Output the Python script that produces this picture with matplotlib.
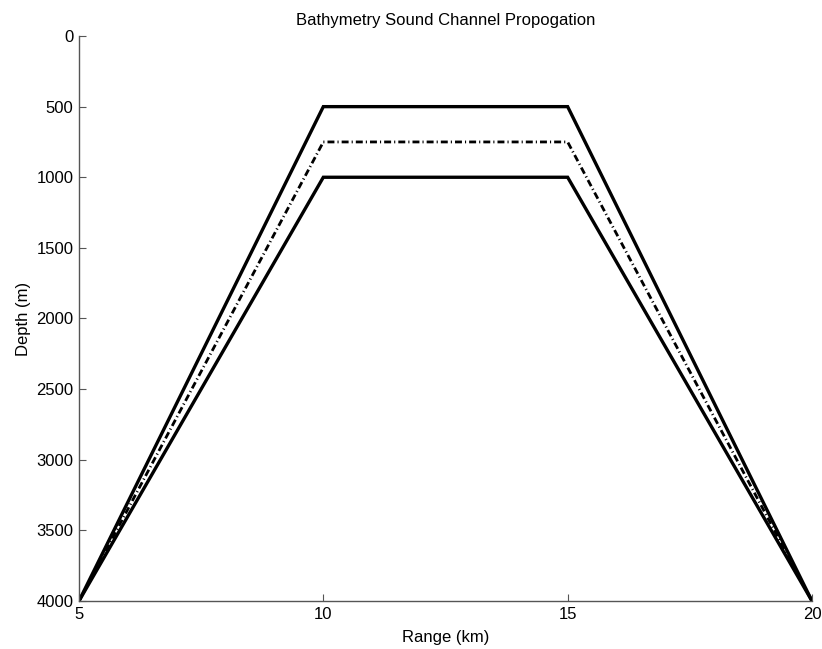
import numpy as np
import matplotlib.pyplot as plt

plt.rcParams['font.family'] = ['Liberation Sans', 'DejaVu Sans']
plt.rcParams['lines.scale_dashes'] = False

# range (km) and depth (m) of the channel boundaries
range_km = [5, 10, 15, 20]
upper_depth = [4000, 500, 500, 4000]
axis_depth = [4000, 750, 750, 4000]
lower_depth = [4000, 1000, 1000, 4000]

xticks = [5, 10, 15, 20]
yticks = [0, 500, 1000, 1500, 2000, 2500, 3000, 3500, 4000]

fig = plt.figure(figsize=(8.22, 6.49), dpi=100)
ax = fig.add_axes([0.0961, 0.074, 0.8917, 0.8705])

ax.plot(range_km, upper_depth, '-k', lw=2.4, solid_joinstyle='miter')
ax.plot(range_km, axis_depth, color='k', lw=2.0,
        dashes=(5.0, 2.2, 0.8, 2.2))
ax.plot(range_km, lower_depth, '-k', lw=2.4, solid_joinstyle='miter')

ax.set_xlim(5, 20)
ax.set_ylim(4000, 0)
ax.set_xticks(xticks)
ax.set_yticks(yticks)
ax.spines['top'].set_visible(False)
ax.spines['right'].set_visible(False)
for s in ('left', 'bottom'):
    ax.spines[s].set_color('#555555')
    ax.spines[s].set_linewidth(1.0)
ax.tick_params(direction='in', length=5, width=0.8, color='#555555',
               labelsize=12, pad=4)

ax.set_title('Bathymetry Sound Channel Propogation', fontsize=12, pad=8)
ax.set_xlabel('Range (km)', fontsize=12, labelpad=6)
ax.set_ylabel('Depth (m)', fontsize=12, labelpad=4)

fig.savefig('out.png', dpi=100)
